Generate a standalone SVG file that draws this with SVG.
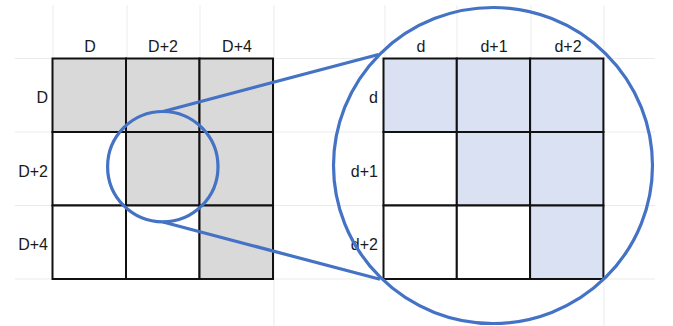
<svg xmlns="http://www.w3.org/2000/svg" width="673" height="326" viewBox="0 0 673 326">
<style>
.faint{stroke:#ebebeb;stroke-width:1;fill:none}
.cell{stroke:#111;stroke-width:2}
.g{fill:#d9d9d9}
.b{fill:#d9e1f2}
.w{fill:#ffffff}
.lbl{font-family:"Liberation Sans",Arial,sans-serif;font-size:16px;fill:#1a1a1a}
.c{text-anchor:middle}
.r{text-anchor:end}
.blue{stroke:#4472c4;stroke-width:3.2;fill:none}
</style>
<rect width="673" height="326" fill="#ffffff"/>
<g id="background-grid">
<line class="faint" x1="15" y1="58.5" x2="655" y2="58.5"/>
<line class="faint" x1="15" y1="132" x2="655" y2="132"/>
<line class="faint" x1="15" y1="205.5" x2="655" y2="205.5"/>
<line class="faint" x1="15" y1="279" x2="655" y2="279"/>
<line class="faint" x1="53" y1="5" x2="53" y2="58"/>
<line class="faint" x1="127" y1="5" x2="127" y2="58"/>
<line class="faint" x1="200" y1="5" x2="200" y2="58"/>
<line class="faint" x1="274" y1="5" x2="274" y2="326"/>
<line class="faint" x1="385" y1="5" x2="385" y2="58"/>
<line class="faint" x1="457" y1="5" x2="457" y2="58"/>
<line class="faint" x1="531" y1="5" x2="531" y2="58"/>
<line class="faint" x1="604" y1="5" x2="604" y2="326"/>
</g>
<g id="left-matrix">
<rect class="cell g" x="52.5" y="58.5" width="73.5" height="73.5"/>
<rect class="cell g" x="126" y="58.5" width="73.5" height="73.5"/>
<rect class="cell g" x="199.5" y="58.5" width="73.5" height="73.5"/>
<rect class="cell w" x="52.5" y="132" width="73.5" height="73.5"/>
<rect class="cell g" x="126" y="132" width="73.5" height="73.5"/>
<rect class="cell g" x="199.5" y="132" width="73.5" height="73.5"/>
<rect class="cell w" x="52.5" y="205.5" width="73.5" height="73.5"/>
<rect class="cell w" x="126" y="205.5" width="73.5" height="73.5"/>
<rect class="cell g" x="199.5" y="205.5" width="73.5" height="73.5"/>
<text class="lbl c" x="90" y="52">D</text>
<text class="lbl c" x="163" y="52">D+2</text>
<text class="lbl c" x="237" y="52">D+4</text>
<text class="lbl r" x="48" y="103">D</text>
<text class="lbl r" x="48" y="177">D+2</text>
<text class="lbl r" x="48" y="250">D+4</text>
</g>
<g id="right-matrix">
<rect class="cell b" x="383.5" y="58.5" width="73.3" height="73.5"/>
<rect class="cell b" x="456.8" y="58.5" width="73.3" height="73.5"/>
<rect class="cell b" x="530.1" y="58.5" width="73.3" height="73.5"/>
<rect class="cell w" x="383.5" y="132" width="73.3" height="73.5"/>
<rect class="cell b" x="456.8" y="132" width="73.3" height="73.5"/>
<rect class="cell b" x="530.1" y="132" width="73.3" height="73.5"/>
<rect class="cell w" x="383.5" y="205.5" width="73.3" height="73.5"/>
<rect class="cell w" x="456.8" y="205.5" width="73.3" height="73.5"/>
<rect class="cell b" x="530.1" y="205.5" width="73.3" height="73.5"/>
<text class="lbl c" x="421" y="52">d</text>
<text class="lbl c" x="494" y="52">d+1</text>
<text class="lbl c" x="568" y="52">d+2</text>
<text class="lbl r" x="378" y="103">d</text>
<text class="lbl r" x="378" y="177">d+1</text>
<text class="lbl r" x="378" y="250">d+2</text>
</g>
<g id="connectors">
<line class="blue" x1="163" y1="111.5" x2="378.5" y2="54.5"/>
<line class="blue" x1="163" y1="222" x2="380" y2="279.3"/>
</g>
<g id="small-circle">
<circle class="blue" cx="162.8" cy="166.7" r="55.2"/>
</g>
<g id="big-circle">
<ellipse class="blue" cx="493" cy="165.5" rx="159.5" ry="158"/>
</g>
</svg>
